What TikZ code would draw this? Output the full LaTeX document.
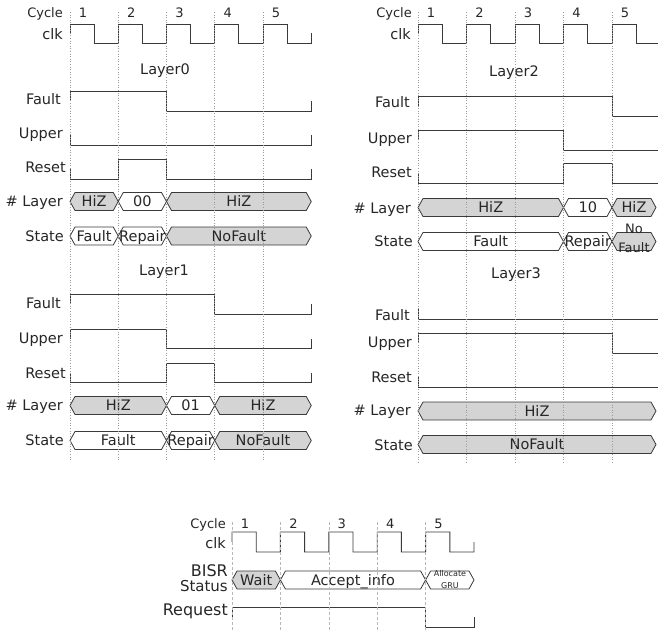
\documentclass[tikz,border=0pt]{standalone}
\usepackage{fontspec}
\setmainfont{DejaVu Sans}
\definecolor{busgray}{HTML}{D4D4D4}
\definecolor{wire}{HTML}{3A3A3A}
\definecolor{gridc}{HTML}{9A9A9A}
\newcommand{\busseg}[6]{%
  \draw[bus, fill=#5] (#2,#4) -- (#2+5,#4-9) -- (#3-5,#4-9) -- (#3,#4) -- (#3-5,#4+9) -- (#2+5,#4+9) -- cycle;
  \node[bustxt] (#1) at ({(#2+#3)/2},#4+5) {#6};}
\begin{document}
\begin{tikzpicture}[x=1pt, y=-1pt,
  sig/.style={wire, line width=0.9pt},
  bus/.style={draw=wire, line width=0.8pt},
  bustxt/.style={anchor=base, inner sep=0pt, text=black!85, font=\fontsize{14.5}{17}\selectfont},
  lbl/.style={anchor=base east, inner sep=0pt, text=black!85, font=\fontsize{14.5}{17}\selectfont},
  cyc/.style={anchor=base, inner sep=0pt, text=black!85, font=\fontsize{13}{15}\selectfont},
  ttl/.style={anchor=base, inner sep=0pt, text=black!85, font=\fontsize{14.5}{17}\selectfont},
  gridln/.style={gridc, dotted, line width=0.6pt},
  gridbot/.style={gridc!70, dashed, dash pattern=on 3pt off 2pt, line width=0.5pt}]
  \useasboundingbox (0,0) rectangle (658,631);

  \node[lbl, font=\fontsize{13}{15}\selectfont] (cycA) at (63,18) {Cycle};
  \foreach \i in {1,...,5} \node[cyc] (cA\i) at ({34.75+48.25*\i},18) {\i};
  \node[lbl] (clkA) at (63,40) {clk};
  \draw[sig] (70,33.5) \foreach \i in {0,...,4} {-- ({70+48.25*\i},24) -- ({94.125+48.25*\i},24) -- ({94.125+48.25*\i},43) -- ({118.25+48.25*\i},43)} -- (311.25,33.5);

  \node[ttl] (layer0) at (165,75) {Layer0};
  \node[lbl] (faultA) at (61,105) {Fault};
  \node[lbl] (upperA) at (63,139) {Upper};
  \node[lbl] (resetA) at (66,173) {Reset};
  \node[lbl] (layA) at (63,207) {\# Layer};
  \node[lbl] (stateA) at (64,241) {State};
  \draw[sig] (70,101) -- (70,91) -- (166.5,91) -- (166.5,111) -- (311.25,111) -- (311.25,101);
  \draw[sig] (70,135) -- (70,145) -- (311.25,145) -- (311.25,135);
  \draw[sig] (70,169) -- (70,179) -- (118.25,179) -- (118.25,159) -- (166.5,159) -- (166.5,179) -- (311.25,179) -- (311.25,169);
  \busseg{hzA1}{70}{118.25}{201.5}{busgray}{HiZ}
  \busseg{nrA}{118.25}{166.5}{201.5}{white}{00}
  \busseg{hzA2}{166.5}{311.25}{201.5}{busgray}{HiZ}
  \busseg{stA1}{70}{118.25}{236}{white}{Fault}
  \busseg{stA2}{118.25}{166.5}{236}{white}{Repair}
  \busseg{stA3}{166.5}{311.25}{236}{busgray}{NoFault}

  \node[ttl] (layer1) at (164,275) {Layer1};
  \node[lbl] (faultB) at (61,308) {Fault};
  \node[lbl] (upperB) at (63,343) {Upper};
  \node[lbl] (resetB) at (66,378) {Reset};
  \node[lbl] (layB) at (63,410) {\# Layer};
  \node[lbl] (stateB) at (64,445) {State};
  \draw[sig] (70,304) -- (70,294) -- (214.75,294) -- (214.75,314) -- (311.25,314) -- (311.25,304);
  \draw[sig] (70,338.5) -- (70,329) -- (166.5,329) -- (166.5,348) -- (311.25,348) -- (311.25,338.5);
  \draw[sig] (70,372.5) -- (70,382) -- (166.5,382) -- (166.5,363) -- (214.75,363) -- (214.75,382) -- (311.25,382) -- (311.25,372.5);
  \busseg{hzB1}{70}{166.5}{405.5}{busgray}{HiZ}
  \busseg{nrB}{166.5}{214.75}{405.5}{white}{01}
  \busseg{hzB2}{214.75}{311.25}{405.5}{busgray}{HiZ}
  \busseg{stB1}{70}{166.5}{440.5}{white}{Fault}
  \busseg{stB2}{166.5}{214.75}{440.5}{white}{Repair}
  \busseg{stB3}{214.75}{311.25}{440.5}{busgray}{NoFault}

  \node[lbl, font=\fontsize{13}{15}\selectfont] (cycC) at (412,18) {Cycle};
  \foreach \i in {1,...,5} \node[cyc] (cC\i) at ({382.5+48.5*\i},18) {\i};
  \node[lbl] (clkC) at (411,40) {clk};
  \draw[sig] (418,33.5) \foreach \i in {0,...,3} {-- ({418+48.5*\i},24) -- ({442.25+48.5*\i},24) -- ({442.25+48.5*\i},43) -- ({466.5+48.5*\i},43)} -- (612,24) -- (636.25,24) -- (636.25,43) -- (658,43);

  \node[ttl] (layer2) at (514,77) {Layer2};
  \node[lbl] (faultC) at (410,108) {Fault};
  \node[lbl] (upperC) at (412,144) {Upper};
  \node[lbl] (resetC) at (412,178) {Reset};
  \node[lbl] (layC) at (411,213) {\# Layer};
  \node[lbl] (stateC) at (413,246) {State};
  \draw[sig] (418,106) -- (418,96) -- (612,96) -- (612,116) -- (658,116);
  \draw[sig] (418,140) -- (418,130) -- (563.5,130) -- (563.5,150) -- (658,150);
  \draw[sig] (418,173) -- (418,183) -- (563.5,183) -- (563.5,163) -- (612,163) -- (612,183) -- (658,183);
  \busseg{hzC1}{418}{563.5}{207.5}{busgray}{HiZ}
  \busseg{nrC}{563.5}{612}{207.5}{white}{10}
  \busseg{hzC2}{612}{656}{207.5}{busgray}{HiZ}
  \busseg{stC1}{418}{563.5}{241.5}{white}{Fault}
  \busseg{stC2}{563.5}{612}{241.5}{white}{Repair}
  \busseg{stC3}{612}{656}{241.5}{busgray}{}
  \node[bustxt, font=\fontsize{13}{15}\selectfont] (noC) at (634,233) {No};
  \node[bustxt, font=\fontsize{13}{15}\selectfont] (nfC) at (634,252) {Fault};

  \node[ttl] (layer3) at (516,278) {Layer3};
  \node[lbl] (faultD) at (410,320) {Fault};
  \node[lbl] (upperD) at (412,347) {Upper};
  \node[lbl] (resetD) at (412,382) {Reset};
  \node[lbl] (layD) at (411,415) {\# Layer};
  \node[lbl] (stateD) at (413,450) {State};
  \draw[sig] (418,309) -- (418,319) -- (658,319);
  \draw[sig] (418,343) -- (418,333) -- (612,333) -- (612,353) -- (658,353);
  \draw[sig] (418,377) -- (418,387) -- (658,387);
  \busseg{hzD}{418}{656}{411}{busgray}{HiZ}
  \busseg{stD}{418}{656}{444.5}{busgray}{NoFault}

  \node[lbl, font=\fontsize{13}{15}\selectfont] (cycE) at (226,528) {Cycle};
  \foreach \i in {1,...,5} \node[cyc] (cE\i) at ({196.6+48.4*\i},528) {\i};
  \node[lbl] (clkE) at (226,548) {clk};
  \draw[sig] (232,542) \foreach \i in {0,...,4} {-- ({232+48.4*\i},532) -- ({256.2+48.4*\i},532) -- ({256.2+48.4*\i},552) -- ({280.4+48.4*\i},552)} -- (474,542);
  \node[lbl, font=\fontsize{16}{18}\selectfont] (bisr) at (228,576) {BISR};
  \node[lbl, font=\fontsize{15}{18}\selectfont] (status) at (228,591) {Status};
  \node[lbl, font=\fontsize{16}{18}\selectfont] (request) at (228,615) {Request};
  \busseg{waitE}{232}{280.4}{580}{busgray}{Wait}
  \busseg{accE}{280.4}{425.6}{580}{white}{Accept\_info}
  \busseg{allocE}{425.6}{474}{580}{white}{}
  \node[bustxt, font=\fontsize{8}{10}\selectfont] (alE) at (450,576) {Allocate};
  \node[bustxt, font=\fontsize{8}{10}\selectfont] (gruE) at (450,588) {GRU};
  \draw[sig] (232,617) -- (232,607) -- (425.6,607) -- (425.6,627) -- (474,627) -- (474,617);

  \foreach \x in {70,118.25,166.5,214.75,263} \draw[gridln] (\x,12) -- (\x,460);
  \foreach \x in {418,466.5,515,563.5,612} \draw[gridln] (\x,12) -- (\x,462);
  \foreach \x in {232,280.4,328.8,377.2,425.6} \draw[gridbot] (\x,522) -- (\x,631);
\end{tikzpicture}
\end{document}
